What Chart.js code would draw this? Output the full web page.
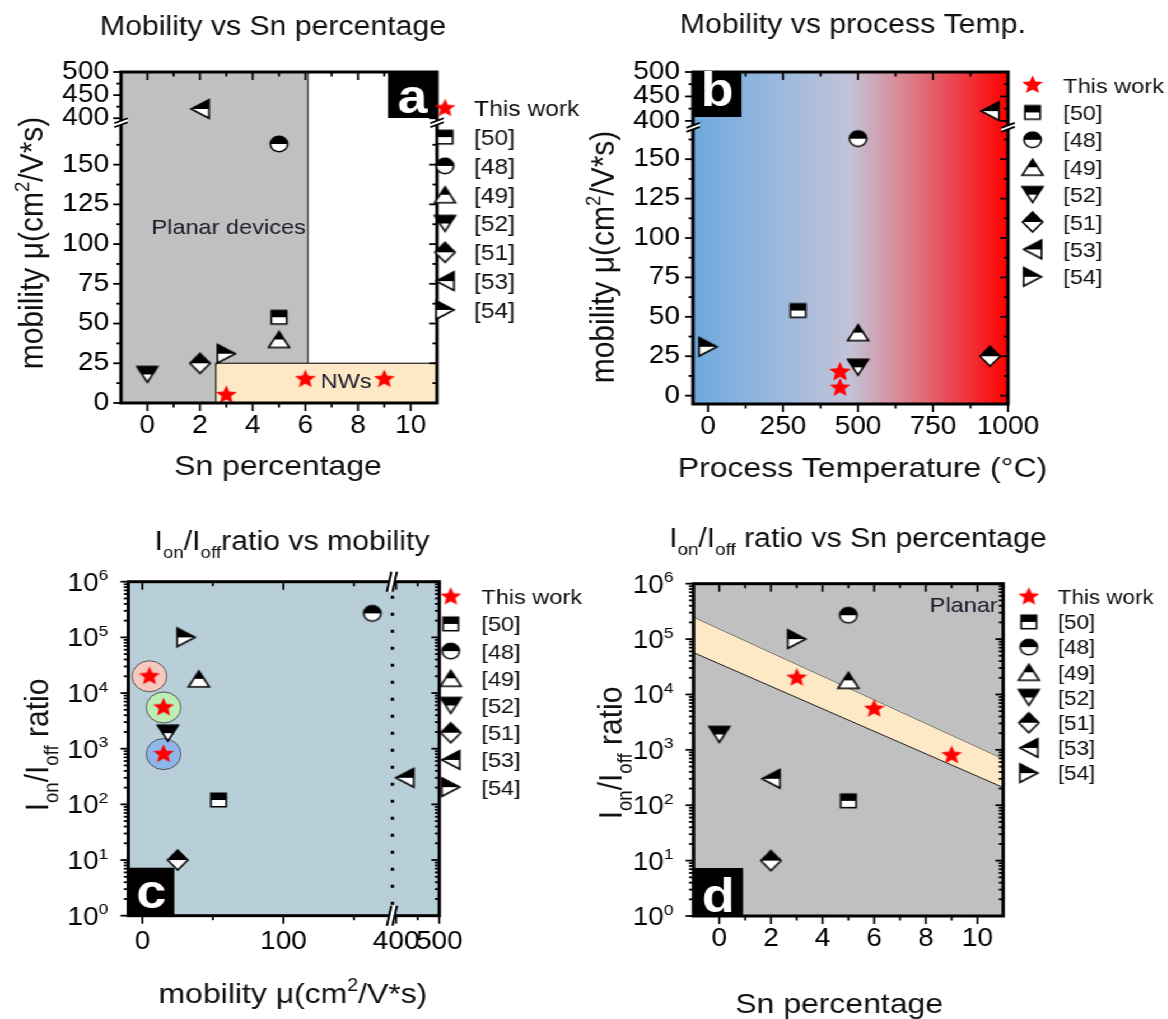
<!DOCTYPE html>
<html lang="en">
<head>
<meta charset="UTF-8">
<title>Mobility and Ion/Ioff comparison</title>
<script src="https://cdn.jsdelivr.net/npm/chart.js"></script>
<style>
  html, body { margin: 0; padding: 0; background: #fff; }
  /* the original figure is stretched a little horizontally, so the whole sheet is too */
  #sheet { position: relative; width: 1043px; height: 1019px; transform: scaleX(1.12); transform-origin: 0 0; }
  #sheet canvas { position: absolute; }
</style>
</head>
<body>
<div id="sheet">
  <canvas id="chartA" width="522" height="500" style="left:0;top:0"></canvas>
  <canvas id="chartB" width="522" height="500" style="left:521.43px;top:0"></canvas>
  <canvas id="chartC" width="522" height="519" style="left:0;top:500px"></canvas>
  <canvas id="chartD" width="522" height="519" style="left:521.43px;top:500px"></canvas>
</div>

<script>
// ---- data ----
const refNames = ['This work', '[50]', '[48]', '[49]', '[52]', '[51]', '[53]', '[54]'];
const refShapes = ['star', 'square', 'circle', 'triUp', 'triDown', 'diamond', 'triLeft', 'triRight'];

// this work (three NW devices)
const snThis = [3, 6, 9];
const muThis = [5, 15, 15];
const tempThis = [440, 440, 440];
const ratioThis = [2e4, 5.5e3, 8e2];
const haloColors = ['#f7c8bf', '#bdeeb4', '#8fb6ea'];

// literature, order: [50] [48] [49] [52] [51] [53] [54]
const snRef = [5, 5, 5, 0, 2, 2, 3];
const muRef = [54, 163, 40, 18, 25, 420, 31];
const tempRef = [300, 500, 500, 500, 940, 940, 0];
const ratioRef = [120, 2.7e5, 1.8e4, 1.9e3, 10, 300, 1e5];

// shaded regions
const planarA = [-1, 6.1];          // Sn % span of the grey "planar" block
const nwBoxA = [2.6, 11, 0, 25];     // NW box: Sn from, Sn to, mu from, mu to
const nwBandX = [-1, 11];
const nwBandHi = [2.45e5, 675];
const nwBandLo = [5.7e4, 209];

// ticks
const snTicks = [0, 2, 4, 6, 8, 10];
const snMinor = [1, 3, 5, 7, 9];
const muTicks = [0, 25, 50, 75, 100, 125, 150, 400, 450, 500];
const muMinor = [12.5, 37.5, 62.5, 87.5, 112.5, 137.5, 162.5, 425, 475];
const tempTicks = [0, 250, 500, 750, 1000];
const tempMinor = [125, 375, 625, 875];
const muTicksC = [0, 100, 400, 500];
const muMinorC = [50, 150, 450];
const decades = [1, 10, 100, 1e3, 1e4, 1e5, 1e6];
const logMinor = [];
for (let d = 0; d < 6; d++) for (let m = 2; m <= 9; m++) logMinor.push(m * Math.pow(10, d));

// ---- helpers ----
const FONT = '"Liberation Sans", Arial, Helvetica, sans-serif';
const S = 1.12;
const px = v => v / S;
const ident = v => v;
// broken axis: values >= 400 are squeezed in above the break
const breakAxis = (upStart, k) => v => (v < 300 ? v : upStart + (v - 400) * k);
const brkA = breakAxis(179.2, 0.291);
const brkB = breakAxis(174.3, 0.31);
const brkC = breakAxis(179.9, 0.306);

function seg(ctx, x1, y1, x2, y2) {
  ctx.beginPath(); ctx.moveTo(x1, y1); ctx.lineTo(x2, y2); ctx.stroke();
}

function richText(ctx, parts, x, y, size, align) {
  const segs = parts.map(p => Array.isArray(p)
    ? { t: p[0], s: size * 0.62, dy: p[1] === 'sub' ? size * 0.3 : -size * 0.42 }
    : { t: p, s: size, dy: 0 });
  let w = 0;
  segs.forEach(g => { ctx.font = g.s + 'px ' + FONT; g.w = ctx.measureText(g.t).width; w += g.w; });
  let cx = align === 'center' ? x - w / 2 : (align === 'right' ? x - w : x);
  ctx.textAlign = 'left';
  ctx.textBaseline = 'alphabetic';
  const base = y + size * 0.36;
  segs.forEach(g => { ctx.font = g.s + 'px ' + FONT; ctx.fillText(g.t, cx, base + g.dy); cx += g.w; });
}

function rotText(ctx, parts, x, y, size) {
  ctx.save(); ctx.translate(x, y); ctx.rotate(-Math.PI / 2);
  richText(ctx, parts, 0, 0, size, 'center');
  ctx.restore();
}

function makeMarker(shape) {
  const c = document.createElement('canvas');
  c.width = 26; c.height = 26;
  const g = c.getContext('2d');
  const m = 13;
  g.beginPath();
  if (shape === 'star') {
    for (let k = 0; k < 10; k++) {
      const r = k % 2 ? 4.4 : 9.8;
      const ang = -Math.PI / 2 + k * Math.PI / 5;
      g.lineTo(m + r * Math.cos(ang), m + r * Math.sin(ang));
    }
    g.closePath(); g.fillStyle = '#ff0000'; g.fill();
    return c;
  }
  if (shape === 'square') g.rect(m - 6.8, m - 6.8, 13.6, 13.6);
  if (shape === 'circle') g.arc(m, m, 7.7, 0, Math.PI * 2);
  if (shape === 'triUp') { g.moveTo(m, m - 8); g.lineTo(m + 9.3, m + 8); g.lineTo(m - 9.3, m + 8); }
  if (shape === 'triDown') { g.moveTo(m - 9.3, m - 8); g.lineTo(m + 9.3, m - 8); g.lineTo(m, m + 8); }
  if (shape === 'diamond') { g.moveTo(m, m - 10); g.lineTo(m + 9, m); g.lineTo(m, m + 10); g.lineTo(m - 9, m); }
  if (shape === 'triLeft') { g.moveTo(m - 8, m); g.lineTo(m + 8, m - 9.3); g.lineTo(m + 8, m + 9.3); }
  if (shape === 'triRight') { g.moveTo(m + 8, m); g.lineTo(m - 8, m - 9.3); g.lineTo(m - 8, m + 9.3); }
  g.closePath();
  g.save(); g.clip();
  g.fillStyle = '#fff'; g.fillRect(0, 0, 26, 26);
  g.fillStyle = '#000'; g.fillRect(0, 0, 26, m);   // top half filled
  g.restore();
  g.lineWidth = 1.6; g.strokeStyle = '#000'; g.stroke();
  return c;
}
const markers = {};
refShapes.forEach(s => { markers[s] = makeMarker(s); });

function pointSets(xThis, yThis, xRef, yRef, mx, my) {
  const sets = [{ label: refNames[0], data: xThis.map((v, i) => ({ x: mx(v), y: my(yThis[i]) })),
                  pointStyle: markers.star, order: 0 }];
  for (let i = 0; i < xRef.length; i++) {
    sets.push({ label: refNames[i + 1], data: [{ x: mx(xRef[i]), y: my(yRef[i]) }],
                pointStyle: markers[refShapes[i + 1]], order: 1 });
  }
  sets.forEach(s => Object.assign(s, { type: 'scatter', pointRadius: 9, pointHoverRadius: 9 }));
  return sets;
}

function linAxis(ax, isX) {
  return {
    type: 'linear', min: ax.min, max: ax.max,
    grid: { display: false, drawTicks: false }, border: { display: false },
    ticks: { autoSkip: false, maxRotation: 0, minRotation: 0, padding: ax.pad,
             color: '#000', font: { family: FONT, size: 25 },
             callback: (v, i) => String(ax.ticks[i]) },
    afterBuildTicks: scale => { scale.ticks = ax.ticks.map(v => ({ value: ax.map(v) })); },
    afterFit: scale => { if (isX) scale.height = 40; else scale.width = 70; }
  };
}

function logAxis() {
  return {
    type: 'logarithmic', min: 1, max: 1e6,
    grid: { display: false, drawTicks: false }, border: { display: false },
    ticks: { display: false },
    afterFit: scale => { scale.width = 70; }
  };
}

function yBreak(ctx, x, y) {
  ctx.fillStyle = '#fff';
  ctx.beginPath();
  ctx.moveTo(x - 6, y + 1); ctx.lineTo(x + 6, y - 4); ctx.lineTo(x + 6, y); ctx.lineTo(x - 6, y + 5);
  ctx.closePath(); ctx.fill();
  ctx.lineWidth = 1.8;
  seg(ctx, x - 6, y + 1, x + 6, y - 4);
  seg(ctx, x - 6, y + 5, x + 6, y);
}

function xBreak(ctx, x, y) {
  ctx.fillStyle = '#fff';
  ctx.beginPath();
  ctx.moveTo(x - 5, y + 10); ctx.lineTo(x - 1, y - 10); ctx.lineTo(x + 4, y - 10); ctx.lineTo(x, y + 10);
  ctx.closePath(); ctx.fill();
  ctx.lineWidth = 2;
  seg(ctx, x - 5, y + 10, x - 1, y - 10);
  seg(ctx, x, y + 10, x + 4, y - 10);
}

function decor(o) {
  return {
    id: 'decor',
    beforeDraw(chart) {
      const ctx = chart.ctx;
      ctx.save();
      o.background(ctx, chart);
      ctx.restore();
    },
    afterDraw(chart) {
      const ctx = chart.ctx, a = chart.chartArea, sx = chart.scales.x, sy = chart.scales.y;
      ctx.save();
      ctx.strokeStyle = '#000';
      ctx.lineWidth = 1.8;
      const xt = (vals, len) => vals.forEach(v => {
        const p = sx.getPixelForValue(o.x.map(v));
        seg(ctx, p, a.bottom, p, a.bottom + len);
        seg(ctx, p, a.top, p, a.top + len);
      });
      const yt = (vals, len) => vals.forEach(v => {
        const p = sy.getPixelForValue(o.y.map(v));
        seg(ctx, a.left - len, p, a.left, p);
        seg(ctx, a.right - len, p, a.right, p);
      });
      xt(o.x.ticks, 8); xt(o.x.minor, 4.5);
      yt(o.y.ticks, 7); yt(o.y.minor, 4);
      ctx.lineWidth = 3;
      ctx.strokeRect(a.left, a.top, a.width, a.height);

      if (o.yBreak) { const p = sy.getPixelForValue(o.yBreak); yBreak(ctx, a.left, p); yBreak(ctx, a.right, p); }
      if (o.xBreak) { const p = sx.getPixelForValue(o.xBreak); xBreak(ctx, p, a.top); xBreak(ctx, p, a.bottom); }

      ctx.fillStyle = '#000';
      if (o.logY) {
        o.y.ticks.forEach(v => {
          const p = sy.getPixelForValue(v);
          richText(ctx, ['10', [String(Math.round(Math.log10(v))), 'sup']], a.left - px(20), p, 25, 'right');
        });
      }

      // panel letter
      const b = o.box;
      const bx = b.corner === 'tr' ? a.right - b.w : a.left;
      const by = b.corner[0] === 't' ? a.top : a.bottom - b.h;
      ctx.fillStyle = '#000';
      ctx.fillRect(bx, by, b.w, b.h);
      ctx.fillStyle = '#fff';
      ctx.font = 'bold 48px ' + FONT;
      ctx.textAlign = 'center'; ctx.textBaseline = 'alphabetic';
      ctx.fillText(b.letter, bx + b.w / 2, by + b.h - b.base);

      // titles
      ctx.fillStyle = '#111';
      richText(ctx, o.title[0], o.title[1], o.title[2], 27, 'center');
      richText(ctx, o.xTitle[0], o.xTitle[1], o.xTitle[2], 28.5, 'center');
      rotText(ctx, o.yTitle[0], o.yTitle[1], o.yTitle[2], 30);

      // legend
      const lg = o.legend;
      refShapes.forEach((s, i) => {
        const yy = lg.y0 + i * lg.dy;
        const img = markers[s];
        ctx.drawImage(img, lg.mx - img.width / 2, yy - img.height / 2);
        ctx.fillStyle = '#111';
        richText(ctx, [refNames[i]], lg.tx, yy, lg.size, 'left');
      });
      ctx.restore();
    }
  };
}

function buildChart(id, o, datasets) {
  const [L, T, R, B] = o.area;
  return new Chart(document.getElementById(id), {
    type: 'scatter',
    data: { datasets },
    options: {
      responsive: false, animation: false, events: [], devicePixelRatio: 1,
      layout: { autoPadding: false, padding: { left: L - 70, top: T, right: 522 - R, bottom: o.H - B - 40 } },
      plugins: { legend: { display: false }, tooltip: { enabled: false }, title: { display: false } },
      scales: { x: linAxis(o.x, true), y: o.logY ? logAxis() : linAxis(o.y, false) }
    },
    plugins: [decor(o)]
  });
}

function label(ctx, text, x, y, size) {
  ctx.fillStyle = '#1b1b2b';
  richText(ctx, [text], x, y, size, 'center');
}

const muTitle = ['mobility \u03bc(cm', ['2', 'sup'], '/V*s)'];
const ratioTitle = ['I', ['on', 'sub'], '/I', ['off', 'sub'], ' ratio'];

// ---- a: mobility vs Sn ----
buildChart('chartA', {
  H: 500, area: [px(121), 72, px(437), 403],
  x: { min: -1, max: 11, ticks: snTicks, minor: snMinor, map: ident, pad: 8 },
  y: { min: 0, max: brkA(500), ticks: muTicks, minor: muMinor, map: brkA, pad: px(12) },
  yBreak: 176.7,
  box: { letter: 'a', corner: 'tr', w: px(49), h: 46, base: 5 },
  title: [['Mobility vs Sn percentage'], px(273), 25],
  xTitle: [['Sn percentage'], px(278), 465],
  yTitle: [muTitle, px(30.6), 243],
  legend: { mx: px(445), tx: px(474), y0: 108.3, dy: 28.8, size: 22 },
  background(ctx, chart) {
    const a = chart.chartArea, x = chart.scales.x, y = chart.scales.y;
    ctx.fillStyle = '#fff'; ctx.fillRect(a.left, a.top, a.width, a.height);
    const x1 = x.getPixelForValue(planarA[1]);
    ctx.fillStyle = '#c0c0c0'; ctx.fillRect(a.left, a.top, x1 - a.left, a.height);
    ctx.strokeStyle = '#333'; ctx.lineWidth = 1.3; seg(ctx, x1, a.top, x1, a.bottom);
    const bx0 = x.getPixelForValue(nwBoxA[0]), bx1 = x.getPixelForValue(nwBoxA[1]);
    const by0 = y.getPixelForValue(nwBoxA[2]), by1 = y.getPixelForValue(nwBoxA[3]);
    ctx.fillStyle = '#fde9c6'; ctx.fillRect(bx0, by1, bx1 - bx0, by0 - by1);
    ctx.strokeRect(bx0, by1, bx1 - bx0, by0 - by1);
    label(ctx, 'Planar devices', x.getPixelForValue(3.09), y.getPixelForValue(111), 21);
    label(ctx, 'NWs', x.getPixelForValue(7.55), y.getPixelForValue(14.5), 21);
  }
}, pointSets(snThis, muThis, snRef, muRef, ident, brkA));

// ---- b: mobility vs process temperature ----
buildChart('chartB', {
  H: 500, area: [px(109.5), 72, px(424.5), 404],
  x: { min: -50, max: 1000, ticks: tempTicks, minor: tempMinor, map: ident, pad: 8 },
  y: { min: -5.3, max: brkB(500), ticks: muTicks, minor: muMinor, map: brkB, pad: px(13) },
  yBreak: 170.5,
  box: { letter: 'b', corner: 'tl', w: px(48.5), h: 45, base: 11 },
  title: [['Mobility vs process Temp.'], px(269.4), 23.5],
  xTitle: [['Process Temperature (\u00b0C)'], px(279), 467],
  yTitle: [muTitle, px(18.5), 257],
  legend: { mx: px(449), tx: px(479.7), y0: 85, dy: 27.4, size: 21 },
  background(ctx, chart) {
    const a = chart.chartArea;
    const g = ctx.createLinearGradient(a.left, 0, a.right, 0);
    g.addColorStop(0, '#6ea9de');
    g.addColorStop(0.25, '#97b8de');
    g.addColorStop(0.5, '#c3c3d7');
    g.addColorStop(0.64, '#d8909c');
    g.addColorStop(0.8, '#e8505c');
    g.addColorStop(1, '#ff0000');
    ctx.fillStyle = g; ctx.fillRect(a.left, a.top, a.width, a.height);
  }
}, pointSets(tempThis, muThis, tempRef, muRef, ident, brkB));

// ---- c: Ion/Ioff vs mobility ----
const setsC = pointSets(muThis, ratioThis, muRef, ratioRef, brkC, ident);
setsC.push({ type: 'scatter', label: 'halo', data: muThis.map((v, i) => ({ x: brkC(v), y: ratioThis[i] })),
             pointStyle: 'circle', pointRadius: 15.5, pointHoverRadius: 15.5, backgroundColor: haloColors,
             borderColor: '#555', borderWidth: 1, order: 5 });
buildChart('chartC', {
  H: 519, area: [px(128.3), 81.7, px(439.3), 415.7], logY: true,
  x: { min: -10, max: brkC(500), ticks: muTicksC, minor: muMinorC, map: brkC, pad: 11 },
  y: { ticks: decades, minor: logMinor, map: ident },
  xBreak: 177.3,
  box: { letter: 'c', corner: 'bl', w: px(46), h: 48, base: 8 },
  title: [['I', ['on', 'sub'], '/I', ['off', 'sub'], 'ratio vs mobility'], px(292), 40],
  xTitle: [muTitle, px(293), 493],
  yTitle: [ratioTitle, px(36), 245],
  legend: { mx: px(450.8), tx: px(481.4), y0: 96.7, dy: 27.2, size: 21 },
  background(ctx, chart) {
    const a = chart.chartArea, x = chart.scales.x;
    ctx.fillStyle = '#b8cfda'; ctx.fillRect(a.left, a.top, a.width, a.height);
    const p = x.getPixelForValue(177.3);
    ctx.strokeStyle = '#000'; ctx.lineWidth = 3; ctx.setLineDash([3, 14]);
    seg(ctx, p, a.top + 14, p, a.bottom - 10);
    ctx.setLineDash([]);
  }
}, setsC);

// ---- d: Ion/Ioff vs Sn ----
const setsD = [
  { type: 'line', label: 'band-hi', data: nwBandX.map((v, i) => ({ x: v, y: nwBandHi[i] })),
    borderColor: '#222', borderWidth: 1, pointRadius: 0, fill: false, order: 10 },
  { type: 'line', label: 'band-lo', data: nwBandX.map((v, i) => ({ x: v, y: nwBandLo[i] })),
    borderColor: '#222', borderWidth: 1, pointRadius: 0, fill: '-1', backgroundColor: '#fde9c6', order: 9 }
].concat(pointSets(snThis, ratioThis, snRef, ratioRef, ident, ident));
buildChart('chartD', {
  H: 519, area: [px(110), 83.7, px(419.7), 416], logY: true,
  x: { min: -1, max: 11, ticks: snTicks, minor: snMinor, map: ident, pad: 8 },
  y: { ticks: decades, minor: logMinor, map: ident },
  box: { letter: 'd', corner: 'bl', w: px(49.5), h: 48, base: 4 },
  title: [['I', ['on', 'sub'], '/I', ['off', 'sub'], ' ratio vs Sn percentage'], px(274.4), 37],
  xTitle: [['Sn percentage'], px(255.7), 503],
  yTitle: [ratioTitle, px(26), 253],
  legend: { mx: px(445.3), tx: px(474.3), y0: 96.7, dy: 25.2, size: 20 },
  background(ctx, chart) {
    const a = chart.chartArea, x = chart.scales.x, y = chart.scales.y;
    ctx.fillStyle = '#c0c0c0'; ctx.fillRect(a.left, a.top, a.width, a.height);
    label(ctx, 'Planar', x.getPixelForValue(9.47), y.getPixelForValue(4.2e5), 21);
    label(ctx, 'NWs', x.getPixelForValue(0.28), y.getPixelForValue(6.5e4), 20);
  }
}, setsD);
</script>
</body>
</html>
